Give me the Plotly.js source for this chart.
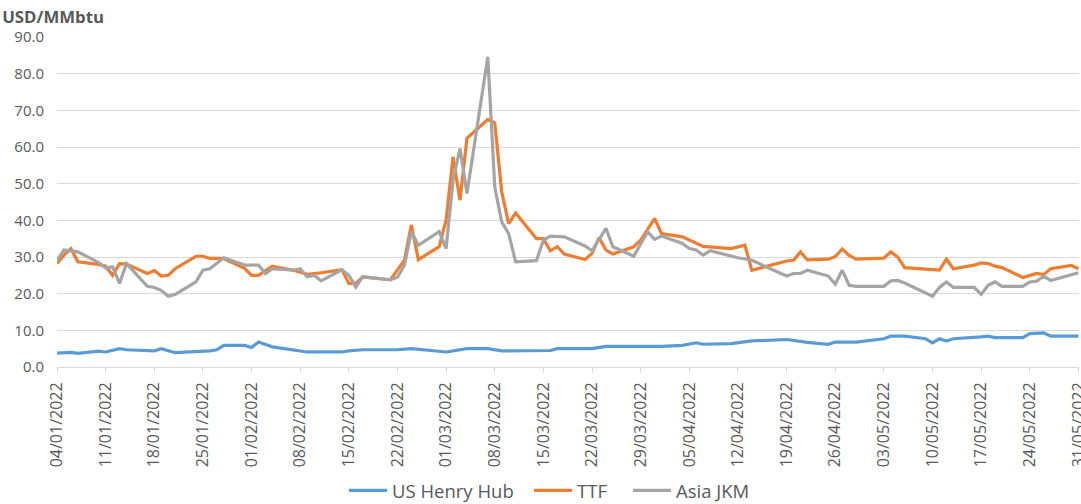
<!DOCTYPE html>
<html>
<head>
<meta charset="utf-8">
<script src="https://cdn.plot.ly/plotly-3.0.1.min.js"></script>
<style>html,body{margin:0;padding:0;background:#fff;}#chart{width:1081px;height:504px;}</style>
</head>
<body>
<div id="chart"></div>
<script>
const hhDates = ['2022-01-04','2022-01-06','2022-01-07','2022-01-10','2022-01-11','2022-01-13','2022-01-14','2022-01-18','2022-01-19','2022-01-21','2022-01-26','2022-01-27','2022-01-28','2022-01-31','2022-02-01','2022-02-02','2022-02-04','2022-02-07','2022-02-09','2022-02-14','2022-02-15','2022-02-17','2022-02-22','2022-02-24','2022-03-01','2022-03-04','2022-03-07','2022-03-09','2022-03-16','2022-03-17','2022-03-22','2022-03-24','2022-04-01','2022-04-04','2022-04-06','2022-04-07','2022-04-11','2022-04-14','2022-04-19','2022-04-22','2022-04-25','2022-04-26','2022-04-29','2022-05-03','2022-05-04','2022-05-06','2022-05-09','2022-05-10','2022-05-11','2022-05-12','2022-05-13','2022-05-17','2022-05-18','2022-05-19','2022-05-23','2022-05-24','2022-05-26','2022-05-27','2022-05-31'];
const hhValues = [3.8,4.0,3.7,4.3,4.1,5.0,4.7,4.4,5.0,3.9,4.4,4.7,5.9,5.9,5.3,6.8,5.5,4.6,4.1,4.1,4.4,4.7,4.7,5.0,4.1,5.0,5.0,4.4,4.5,5.0,5.0,5.6,5.6,5.9,6.6,6.2,6.4,7.1,7.5,6.7,6.2,6.8,6.8,7.7,8.4,8.4,7.7,6.6,7.7,7.1,7.7,8.2,8.4,8.0,8.0,9.1,9.3,8.4,8.4];

const ttfDates = ['2022-01-04','2022-01-05','2022-01-06','2022-01-07','2022-01-10','2022-01-11','2022-01-12','2022-01-13','2022-01-14','2022-01-17','2022-01-18','2022-01-19','2022-01-20','2022-01-21','2022-01-24','2022-01-25','2022-01-26','2022-01-28','2022-01-31','2022-02-01','2022-02-02','2022-02-04','2022-02-07','2022-02-09','2022-02-11','2022-02-14','2022-02-15','2022-02-16','2022-02-17','2022-02-21','2022-02-22','2022-02-23','2022-02-24','2022-02-25','2022-02-28','2022-03-01','2022-03-02','2022-03-03','2022-03-04','2022-03-07','2022-03-08','2022-03-09','2022-03-10','2022-03-11','2022-03-14','2022-03-15','2022-03-16','2022-03-17','2022-03-18','2022-03-21','2022-03-22','2022-03-23','2022-03-24','2022-03-25','2022-03-28','2022-03-29','2022-03-31','2022-04-01','2022-04-04','2022-04-07','2022-04-11','2022-04-13','2022-04-14','2022-04-19','2022-04-20','2022-04-21','2022-04-22','2022-04-25','2022-04-26','2022-04-27','2022-04-28','2022-04-29','2022-05-03','2022-05-04','2022-05-05','2022-05-06','2022-05-11','2022-05-12','2022-05-13','2022-05-16','2022-05-17','2022-05-18','2022-05-19','2022-05-20','2022-05-23','2022-05-25','2022-05-26','2022-05-27','2022-05-30','2022-05-31'];
const ttfValues = [28.2,30.5,32.3,28.7,28.0,27.5,25.0,28.2,28.1,25.5,26.3,24.8,25.0,26.8,30.2,30.2,29.6,29.6,26.9,25.0,25.0,27.5,26.4,25.3,25.7,26.5,22.8,22.8,24.6,23.8,26.5,29.1,38.7,29.3,32.8,40.1,57.3,45.5,62.4,67.5,66.6,47.8,39.1,42.0,35.0,35.0,31.7,32.8,30.8,29.3,31.0,35.3,31.9,30.8,32.8,34.6,40.5,36.4,35.5,32.9,32.3,33.2,26.4,28.9,29.1,31.4,29.2,29.4,30.1,32.2,30.4,29.4,29.7,31.4,30.0,27.1,26.4,29.4,26.8,27.8,28.4,28.2,27.5,27.1,24.4,25.5,25.2,26.8,27.7,26.8];

const jkmDates = ['2022-01-04','2022-01-05','2022-01-07','2022-01-10','2022-01-11','2022-01-12','2022-01-13','2022-01-14','2022-01-17','2022-01-18','2022-01-19','2022-01-20','2022-01-21','2022-01-24','2022-01-25','2022-01-26','2022-01-28','2022-01-31','2022-02-02','2022-02-03','2022-02-04','2022-02-07','2022-02-08','2022-02-09','2022-02-10','2022-02-11','2022-02-14','2022-02-15','2022-02-16','2022-02-17','2022-02-21','2022-02-22','2022-02-23','2022-02-24','2022-02-25','2022-02-28','2022-03-01','2022-03-02','2022-03-03','2022-03-04','2022-03-07','2022-03-08','2022-03-09','2022-03-10','2022-03-11','2022-03-14','2022-03-15','2022-03-16','2022-03-18','2022-03-21','2022-03-22','2022-03-24','2022-03-25','2022-03-28','2022-03-30','2022-03-31','2022-04-01','2022-04-04','2022-04-05','2022-04-06','2022-04-07','2022-04-08','2022-04-12','2022-04-14','2022-04-19','2022-04-20','2022-04-21','2022-04-22','2022-04-25','2022-04-26','2022-04-27','2022-04-28','2022-04-29','2022-05-03','2022-05-04','2022-05-05','2022-05-06','2022-05-10','2022-05-11','2022-05-12','2022-05-13','2022-05-16','2022-05-17','2022-05-18','2022-05-19','2022-05-20','2022-05-23','2022-05-24','2022-05-25','2022-05-26','2022-05-27','2022-05-31'];
const jkmValues = [29.1,31.9,31.4,28.5,27.0,27.3,22.8,28.2,22.0,21.7,20.9,19.3,19.8,23.2,26.4,26.8,29.8,27.8,27.8,25.5,26.8,26.4,26.8,24.6,25.0,23.5,26.5,25.0,21.8,24.6,23.8,24.5,27.8,36.9,33.2,36.9,32.3,51.0,59.6,47.3,84.6,49.1,39.6,36.4,28.7,29.0,34.6,35.7,35.5,33.0,31.7,37.8,32.8,30.2,36.9,34.8,35.7,33.7,32.3,31.9,30.5,31.7,29.8,29.1,24.8,25.5,25.5,26.4,24.8,22.6,26.4,22.3,22.0,22.0,23.5,23.6,22.9,19.3,21.7,23.2,21.7,21.7,19.8,22.3,23.2,22.0,22.0,23.2,23.4,24.8,23.6,25.7];

const seriesNames = ['US Henry Hub','TTF','Asia JKM'];
const seriesColors = ['#5B9BD5','#ED7D31','#A5A5A5'];

const FONT = 'Open Sans, Noto Sans, sans-serif';
const legendIds = ['legend', 'legend2', 'legend3'];
const legendLeft = [344, 529, 628];

const traces = [
  {x: hhDates, y: hhValues},
  {x: ttfDates, y: ttfValues},
  {x: jkmDates, y: jkmValues}
].map((d, i) => ({
  type: 'scatter', mode: 'lines', x: d.x, y: d.y, name: seriesNames[i],
  line: {color: seriesColors[i], width: 3.2}, hoverinfo: 'skip', legend: legendIds[i]
}));

const layout = {
  width: 1081, height: 504,
  margin: {l: 57, r: 2, t: 37, b: 137},
  paper_bgcolor: '#ffffff', plot_bgcolor: '#ffffff',
  font: {family: FONT, color: '#595959'},
  title: {text: '<b>USD/MMbtu</b>', font: {family: FONT, size: 16.8, color: '#595959'},
          xref: 'container', x: 0.002, xanchor: 'left', yref: 'container', y: 0.966, yanchor: 'middle'},
  xaxis: {
    type: 'date', range: ['2022-01-04', '2022-05-31 02:00'],
    tick0: '2022-01-04', dtick: 7 * 86400000, tickformat: '%d/%m/%Y', tickangle: -90,
    ticks: 'outside', ticklen: 5, tickcolor: '#d9d9d9', tickwidth: 1, ticklabelstandoff: 3,
    ticklabeloverflow: 'allow',
    showline: true, linecolor: '#d9d9d9', linewidth: 1,
    showgrid: false, zeroline: false,
    tickfont: {family: FONT, size: 16, color: '#595959'}
  },
  yaxis: {
    range: [0, 90], dtick: 10, tickformat: '.1f',
    showgrid: true, gridcolor: '#d9d9d9', gridwidth: 1,
    zeroline: false, showline: false, ticks: '', ticklabelstandoff: 12,
    tickfont: {family: FONT, size: 15, color: '#595959'}
  },
  showlegend: true
};
legendIds.forEach((id, i) => {
  layout[id] = {orientation: 'h', xref: 'container', x: legendLeft[i] / 1081, xanchor: 'left',
                yref: 'container', y: 0.026, yanchor: 'middle', bgcolor: 'rgba(0,0,0,0)',
                font: {family: FONT, size: 18.5, color: '#595959'}, itemwidth: 38};
});

Plotly.newPlot('chart', traces, layout, {displayModeBar: false, staticPlot: true});
</script>
</body>
</html>
